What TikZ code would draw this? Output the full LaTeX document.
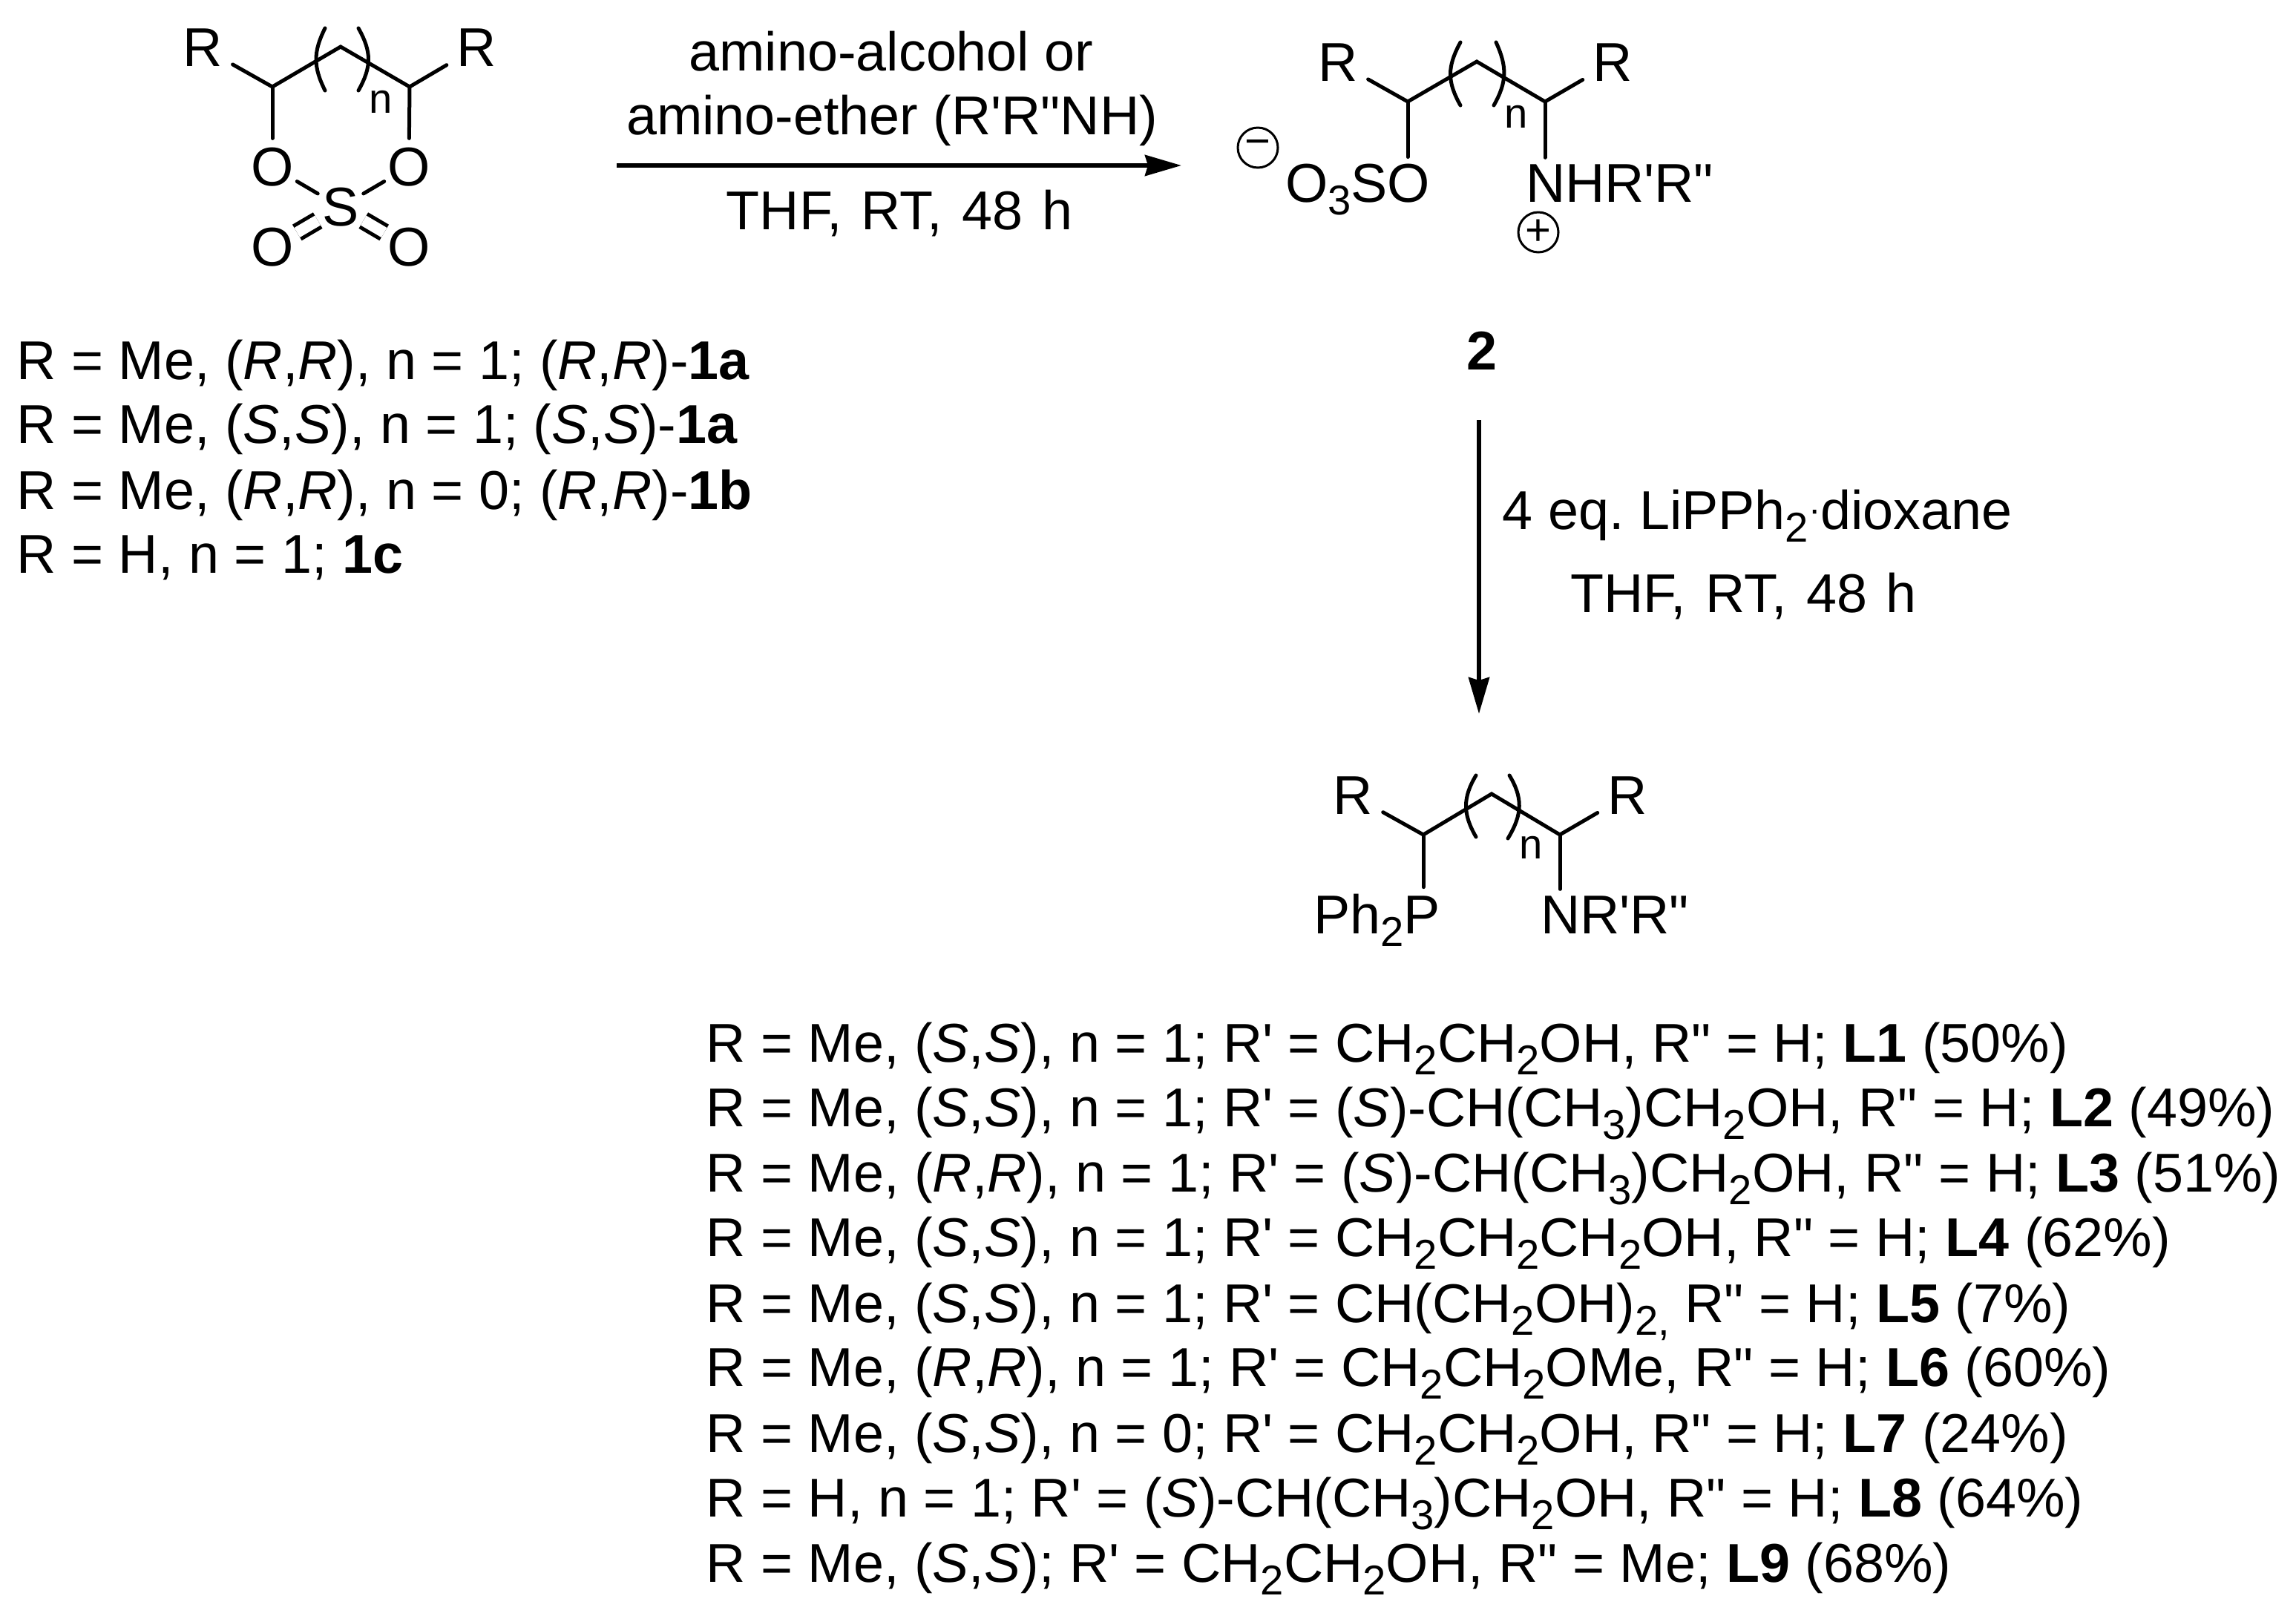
\documentclass[tikz,border=0pt]{standalone}
\usepackage{fontspec}
\usetikzlibrary{arrows.meta}
\newfontfamily\arialfont{Liberation Sans}
\newcommand{\chemfont}{\arialfont\fontsize{20.97}{25}\selectfont}
\newcommand{\subs}[1]{\raisebox{-.17cm}{\fontsize{16}{16}\selectfont #1}}
\newcommand{\condtext}{THF,\hspace{.06cm} RT,\hspace{.06cm} 48\hspace{.05cm} h}
\tikzset{
  every node/.style={font=\chemfont,inner sep=0pt},
  bond/.style={line width=.05cm,line cap=round},
  dblbond/.style={line width=.05cm,double,double distance=.15cm},
  paren/.style={line width=.05cm,line cap=round},
  arrowline/.style={line width=.055cm,-{Stealth[length=.49cm,width=.28cm,inset=.04cm]}},
  atom/.style={circle,outer sep=0cm},
  rgroup/.style={circle,outer sep=.1cm},
  subst/.style={anchor=base west,outer sep=.09cm},
  textline/.style={anchor=base west},
  reagent/.style={anchor=base},
  nlabel/.style={font=\arialfont\fontsize{16}{16}\selectfont},
  charge/.style={circle,draw,line width=.03cm,minimum size=.54cm,font=\arialfont\fontsize{17}{17}\selectfont},
}
\begin{document}
\begin{tikzpicture}[x=1cm,y=-1cm]
  \useasboundingbox (0,0) rectangle (30.94,21.73);
  % cyclic sulfate
  \coordinate (a1) at (3.67,1.17);
  \coordinate (a2) at (4.59,0.63);
  \coordinate (a3) at (5.52,1.17);
  \node[rgroup] (ra1) at (2.73,0.64) {R};
  \node[rgroup] (ra2) at (6.42,0.64) {R};
  \node[atom] (oa1) at (3.67,2.25) {O};
  \node[atom] (oa2) at (5.51,2.25) {O};
  \node[atom] (oa3) at (3.67,3.33) {O};
  \node[atom] (oa4) at (5.51,3.33) {O};
  \node[atom] (sa) at (4.59,2.79) {S};
  \node[nlabel] (na) at (5.13,1.37) {n};
  \draw[bond] (ra1) -- (a1) -- (a2) -- (a3) -- (ra2);
  \draw[bond] (a1) -- (oa1) ;
  \draw[bond] (a3) -- (oa2) ;
  \draw[bond] (oa1) -- (sa) ;
  \draw[bond] (oa2) -- (sa) ;
  \draw[dblbond] (sa) -- (oa3) ;
  \draw[dblbond] (sa) -- (oa4) ;
  \draw[paren] (4.38,0.38) .. controls (4.22,0.70) and (4.22,0.90) .. (4.38,1.22);
  \draw[paren] (4.83,0.38) .. controls (5.01,0.70) and (5.01,0.90) .. (4.83,1.22);
  % first arrow
  \coordinate (s1) at (8.31,2.23);
  \coordinate (e1) at (15.92,2.23);
  \draw[arrowline] (s1) -- (e1) ;
  \node[reagent] (r1) at (12.01,0.95) {amino-alcohol or};
  \node[reagent] (r2) at (12.02,1.81) {amino-ether (R'R"NH)};
  \node[reagent] (r3) at (12.12,3.09) {\condtext};
  % zwitterion
  \coordinate (b1) at (18.97,1.37);
  \coordinate (b2) at (19.90,0.83);
  \coordinate (b3) at (20.82,1.37);
  \node[rgroup] (rb1) at (18.03,0.84) {R};
  \node[rgroup] (rb2) at (21.73,0.84) {R};
  \node[subst] (so) at (17.23,2.72) {O\subs{3}SO};
  \node[subst] (nh) at (20.47,2.72) {NHR'R"};
  \node[nlabel] (nb) at (20.43,1.57) {n};
  \node[charge] (neg) at (16.95,1.99) {−};
  \node[charge] (pos) at (20.73,3.13) {+};
  \draw[bond] (rb1) -- (b1) -- (b2) -- (b3) -- (rb2);
  \draw[bond] (b1) -- (b1 |- so.north) ;
  \draw[bond] (b3) -- (b3 |- nh.north) ;
  \draw[paren] (19.68,0.57) .. controls (19.50,0.90) and (19.50,1.10) .. (19.68,1.42);
  \draw[paren] (20.16,0.57) .. controls (20.31,0.90) and (20.31,1.10) .. (20.13,1.42);
  \node[font=\chemfont\bfseries] (cmpd2) at (19.97,4.73) {2};
  % second arrow
  \coordinate (s2) at (19.93,5.66);
  \coordinate (e2) at (19.93,9.62);
  \draw[arrowline] (s2) -- (e2) ;
  \node[textline] (r4) at (20.24,7.13) {4 eq.\ LiPPh\subs{2}\raisebox{.1cm}{\fontsize{14}{14}\selectfont ·}dioxane};
  \node[textline] (r5) at (21.16,8.25) {\condtext};
  % phosphine
  \coordinate (c1) at (19.18,11.25);
  \coordinate (c2) at (20.10,10.70);
  \coordinate (c3) at (21.02,11.25);
  \node[rgroup] (rc1) at (18.23,10.72) {R};
  \node[rgroup] (rc2) at (21.93,10.72) {R};
  \node[subst] (pp) at (17.61,12.58) {Ph\subs{2}P};
  \node[subst] (nr) at (20.67,12.58) {NR'R"};
  \node[nlabel] (nc) at (20.63,11.42) {n};
  \draw[bond] (rc1) -- (c1) -- (c2) -- (c3) -- (rc2);
  \draw[bond] (c1) -- (c1 |- pp.north) ;
  \draw[bond] (c3) -- (c3 |- nr.north) ;
  \draw[paren] (19.89,10.45) .. controls (19.71,10.75) and (19.71,10.97) .. (19.89,11.28);
  \draw[paren] (20.34,10.45) .. controls (20.52,10.75) and (20.52,10.97) .. (20.32,11.30);
  % substrates
  \node[textline] (la) at (0.22,5.11) {R = Me, (\textit{R},\textit{R}), n = 1; (\textit{R},\textit{R})-\textbf{1a}};
  \node[textline] (lb) at (0.22,5.97) {R = Me, (\textit{S},\textit{S}), n = 1; (\textit{S},\textit{S})-\textbf{1a}};
  \node[textline] (lc) at (0.22,6.86) {R = Me, (\textit{R},\textit{R}), n = 0; (\textit{R},\textit{R})-\textbf{1b}};
  \node[textline] (ld) at (0.22,7.72) {R = H, n = 1; \textbf{1c}};
  % ligands
  \node[textline] (l1) at (9.51,14.31) {R = Me, (\textit{S},\textit{S}), n = 1; R' = CH\subs{2}CH\subs{2}OH, R" = H; \textbf{L1} (50\%)};
  \node[textline] (l2) at (9.51,15.18) {R = Me, (\textit{S},\textit{S}), n = 1; R' = (\textit{S})-CH(CH\subs{3})CH\subs{2}OH, R" = H; \textbf{L2} (49\%)};
  \node[textline] (l3) at (9.51,16.06) {R = Me, (\textit{R},\textit{R}), n = 1; R' = (\textit{S})-CH(CH\subs{3})CH\subs{2}OH, R" = H; \textbf{L3} (51\%)};
  \node[textline] (l4) at (9.51,16.93) {R = Me, (\textit{S},\textit{S}), n = 1; R' = CH\subs{2}CH\subs{2}CH\subs{2}OH, R" = H; \textbf{L4} (62\%)};
  \node[textline] (l5) at (9.51,17.82) {R = Me, (\textit{S},\textit{S}), n = 1; R' = CH(CH\subs{2}OH)\subs{2,} R" = H; \textbf{L5} (7\%)};
  \node[textline] (l6) at (9.51,18.68) {R = Me, (\textit{R},\textit{R}), n = 1; R' = CH\subs{2}CH\subs{2}OMe, R" = H; \textbf{L6} (60\%)};
  \node[textline] (l7) at (9.51,19.57) {R = Me, (\textit{S},\textit{S}), n = 0; R' = CH\subs{2}CH\subs{2}OH, R" = H; \textbf{L7} (24\%)};
  \node[textline] (l8) at (9.51,20.44) {R = H, n = 1; R' = (\textit{S})-CH(CH\subs{3})CH\subs{2}OH, R" = H; \textbf{L8} (64\%)};
  \node[textline] (l9) at (9.51,21.32) {R = Me, (\textit{S},\textit{S}); R' = CH\subs{2}CH\subs{2}OH, R" = Me; \textbf{L9} (68\%)};
\end{tikzpicture}
\end{document}
